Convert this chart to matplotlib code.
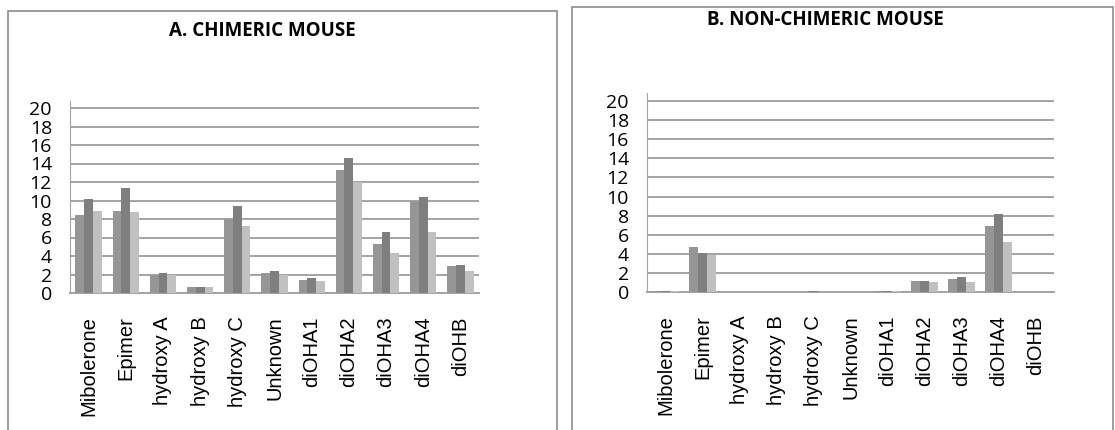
import matplotlib.pyplot as plt
import numpy as np
from matplotlib.patches import Rectangle
from matplotlib.font_manager import FontProperties

categories = ["Mibolerone", "Epimer", "hydroxy A", "hydroxy B", "hydroxy C",
              "Unknown", "diOHA1", "diOHA2", "diOHA3", "diOHA4", "diOHB"]

# chimeric mouse, three series per metabolite
chim_s1 = [8.4, 8.9, 1.9, 0.6, 8.0, 2.2, 1.4, 13.3, 5.3, 9.9, 2.9]
chim_s2 = [10.2, 11.4, 2.2, 0.7, 9.4, 2.4, 1.6, 14.6, 6.6, 10.4, 3.0]
chim_s3 = [8.9, 8.8, 1.9, 0.6, 7.2, 2.0, 1.3, 12.0, 4.3, 6.6, 2.4]

# non-chimeric mouse
non_s1 = [0.1, 4.7, 0, 0, 0, 0, 0.14, 1.1, 1.4, 6.9, 0]
non_s2 = [0.1, 4.1, 0, 0, 0.14, 0, 0.14, 1.1, 1.6, 8.2, 0]
non_s3 = [0.07, 3.9, 0, 0, 0, 0, 0.1, 1.0, 1.0, 5.2, 0]

colors = ["#969696", "#7f7f7f", "#c0c0c0"]
yticks = list(range(0, 21, 2))

xfont = FontProperties(family="Liberation Sans", size=14.5)
yfont = FontProperties(family="Open Sans", size=14)
tfont = FontProperties(family="Open Sans", size=13.5, weight="bold")

fig = plt.figure(figsize=(11.15, 4.30), dpi=100)

# outer chart frames
fig.patches.append(Rectangle((8 / 1115, -0.1), 549 / 1115, 1.1 - 11 / 430,
                             transform=fig.transFigure, fill=False,
                             edgecolor="#8c8c8c", lw=1.2))
fig.patches.append(Rectangle((572 / 1115, -0.1), 541 / 1115, 1.1 - 7 / 430,
                             transform=fig.transFigure, fill=False,
                             edgecolor="#8c8c8c", lw=1.2))


def draw_panel(rect, series, title, title_xy):
    ax = fig.add_axes(rect)
    x = np.arange(len(categories))
    w = 0.235
    for i, vals in enumerate(series):
        ax.bar(x + (i - 1) * w, vals, width=w, color=colors[i], zorder=3)
    ax.set_xlim(-0.5, len(categories) - 0.5)
    ax.set_ylim(0, 20.8)
    ax.set_yticks(yticks)
    ax.set_yticklabels([str(t) for t in yticks])
    ax.set_xticks(x)
    ax.set_xticklabels(categories, rotation=90, va="top")
    for lab in ax.get_xticklabels():
        lab.set_fontproperties(xfont)
    for lab in ax.get_yticklabels():
        lab.set_fontproperties(yfont)
    ax.tick_params(axis="y", length=0, pad=13)
    ax.tick_params(axis="x", length=0, pad=17)
    ax.grid(axis="y", color="#a3a3a3", lw=1.4, zorder=0)
    for s in ["top", "right"]:
        ax.spines[s].set_visible(False)
    ax.spines["left"].set_color("#a3a3a3")
    ax.spines["bottom"].set_color("#a3a3a3")
    ax.spines["bottom"].set_linewidth(1.4)
    fig.text(title_xy[0], title_xy[1], title, ha="center", va="center",
             fontproperties=tfont)
    return ax


draw_panel([70 / 1115, 1 - 293 / 430, 409 / 1115, 192.4 / 430],
           [chim_s1, chim_s2, chim_s3], "A. CHIMERIC MOUSE",
           (262 / 1115, 1 - 31 / 430))
draw_panel([647 / 1115, 1 - 292 / 430, 407 / 1115, 198.6 / 430],
           [non_s1, non_s2, non_s3], "B. NON-CHIMERIC MOUSE",
           (825 / 1115, 1 - 20 / 430))

fig.savefig("out.png", dpi=100)
